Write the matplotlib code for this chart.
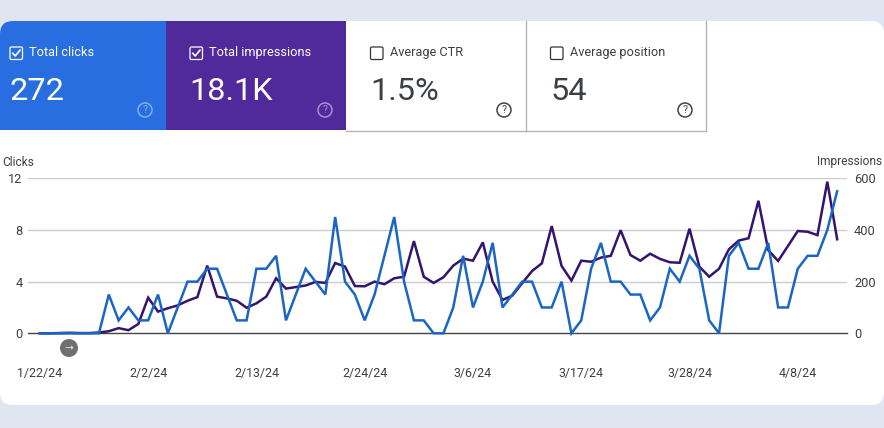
import pandas as pd
import matplotlib
matplotlib.use("Agg")
import matplotlib.pyplot as plt
from matplotlib.patches import FancyBboxPatch, Rectangle, Circle

plt.rcParams['font.family'] = ['Roboto', 'DejaVu Sans']

# Daily values, 1/22/24 to 4/12/24
clicks = [0, 0, 0, 0, 0, 0, 0, 3, 1, 2, 1, 1, 3, 0, 2, 4, 4, 5, 5, 3, 1, 1, 5, 5, 6, 1, 3,
          5, 4, 3, 9, 4, 3, 1, 3, 6, 9, 4, 1, 1, 0, 0, 2, 6, 2, 4, 7, 2, 3, 4, 4, 2, 2, 4, 0, 1,
          5, 7, 4, 4, 3, 3, 1, 2, 5, 4, 6, 5, 1, 0, 6, 7, 5, 5, 7, 2, 2, 5, 6, 6, 8, 11]
impressions = [0, 0, 1, 2, 1, 1, 3, 8, 20, 12, 36, 138, 84, 97, 108, 126, 140, 262, 142, 135,
               126, 99, 116, 142, 213, 173, 179, 185, 199, 195, 272, 258, 183, 182, 200, 190,
               213, 219, 357, 219, 195, 217, 262, 289, 281, 352, 200, 129, 146, 194, 241, 271,
               415, 261, 204, 281, 277, 293, 300, 399, 303, 281, 308, 288, 275, 273, 405, 258,
               219, 250, 325, 359, 368, 513, 322, 280, 338, 396, 393, 380, 587, 364]
dates = pd.date_range("2024-01-22", periods=len(clicks))

date_ticks = ["2024-01-22", "2024-02-02", "2024-02-13", "2024-02-24", "2024-03-06",
              "2024-03-17", "2024-03-28", "2024-04-08"]
date_labels = ["1/22/24", "2/2/24", "2/13/24", "2/24/24", "3/6/24", "3/17/24", "3/28/24", "4/8/24"]
click_ticks = [0, 4, 8, 12]
impression_ticks = [0, 200, 400, 600]

card_titles = ["Total clicks", "Total impressions", "Average CTR", "Average position"]
card_values = ["272", "18.1K", "1.5%", "54"]

W, H = 884, 428
BLUE = "#1a66c4"
PURPLE = "#33146f"
TEXT = "#3c4043"

fig = plt.figure(figsize=(W / 100, H / 100), dpi=100, facecolor="#dfe6f1")

# Page furniture is drawn in pixel coordinates
bg = fig.add_axes([0, 0, 1, 1])
bg.set_xlim(0, W)
bg.set_ylim(H, 0)
bg.axis("off")

sheet = FancyBboxPatch((0, 21), W, 384, boxstyle="round,pad=0,rounding_size=13",
                       facecolor="white", edgecolor="none")
bg.add_patch(sheet)

card_x = [0, 166, 346, 526, 705.5]
card_fill = ["#286ee0", "#502a9a", "white", "white"]
text_x = [9.5, 189.5, 370, 550.5]
help_x = [145, 325, 504, 685]

for i in range(4):
    left = card_x[i]
    right = card_x[i + 1]
    selected = i < 2
    fg = "white" if selected else TEXT
    r = Rectangle((left, 21), right - left, 109, facecolor=card_fill[i], edgecolor="none")
    bg.add_patch(r)
    r.set_clip_path(sheet)
    if not selected:
        bg.plot([right, right], [21, 130.5], color="#b5b5b5", lw=1)
        bg.plot([left, right], [130.5, 130.5], color="#b5b5b5", lw=1)

    # checkbox
    box_x = [10, 190, 370.5, 550.5][i]
    bg.add_patch(FancyBboxPatch((box_x, 47), 12.5, 12.5, boxstyle="round,pad=0,rounding_size=1.5",
                                facecolor="none", edgecolor=fg if selected else "#333333", lw=0.9))
    if selected:
        bg.plot([box_x + 2.8, box_x + 5.2, box_x + 10], [53.3, 56, 50.2], color="white", lw=1.2)

    bg.text(box_x + 19, 52.5, card_titles[i], color=fg, fontsize=9.2, ha="left", va="center")
    bg.text(text_x[i], 100, card_values[i], color=fg, fontsize=23.4, ha="left", va="baseline")

    # help icon
    icon_col = {0: "#7fb0f5", 1: "#a78fd0"}.get(i, "#444444")
    bg.add_patch(Circle((help_x[i], 110), 7, facecolor="none", edgecolor=icon_col, lw=1.1))
    bg.text(help_x[i], 110.3, "?", color=icon_col, fontsize=7.5, ha="center", va="center")

# Arrow button under the chart
bg.add_patch(Circle((69, 348), 9, facecolor="#707070", edgecolor="none"))
bg.text(69, 348, "→", color="#e8e8e8", fontsize=7.5, ha="center", va="center", family="DejaVu Sans")

bg.text(2, 162, "Clicks", color=TEXT, fontsize=8.6, ha="left", va="center")
bg.text(882, 162, "Impressions", color=TEXT, fontsize=8.6, ha="right", va="center")

# Chart: pixel box is x 28..847, y 178.3 (top value) .. 333.3 (zero)
ax = fig.add_axes([28 / W, 1 - 333.3 / H, (847 - 28) / W, 155 / H])
ax2 = ax.twinx()
ax.set_zorder(ax2.get_zorder() + 1)
ax.patch.set_visible(False)
ax2.patch.set_visible(False)

ax2.plot(dates, impressions, color=PURPLE, lw=1.8, solid_joinstyle="miter", clip_on=False)
ax.plot(dates, clicks, color=BLUE, lw=1.8, solid_joinstyle="miter", clip_on=False)

ax.set_xlim(dates[0] - pd.Timedelta(hours=29), dates[-1] + pd.Timedelta(hours=24))
ax.set_ylim(0, 12)
ax2.set_ylim(0, 600)

ax.set_yticks(click_ticks)
ax2.set_yticks(impression_ticks)
ax.set_xticks(pd.to_datetime(date_ticks))
ax.set_xticklabels(date_labels)

ax.tick_params(axis="x", length=0, pad=24, labelsize=8.9, labelcolor=TEXT)
ax.tick_params(axis="y", length=0, pad=4, labelsize=9.2, labelcolor=TEXT)
ax2.tick_params(axis="y", length=0, pad=5, labelsize=9.2, labelcolor=TEXT)

ax2.grid(axis="y", color="#cccccc", lw=1)
ax2.set_axisbelow(True)
for a in (ax, ax2):
    for side in ("top", "left", "right", "bottom"):
        a.spines[side].set_visible(False)
bg.plot([28, 847], [333.3, 333.3], color="#444444", lw=1)

fig.savefig("out.png", dpi=100, facecolor=fig.get_facecolor())
